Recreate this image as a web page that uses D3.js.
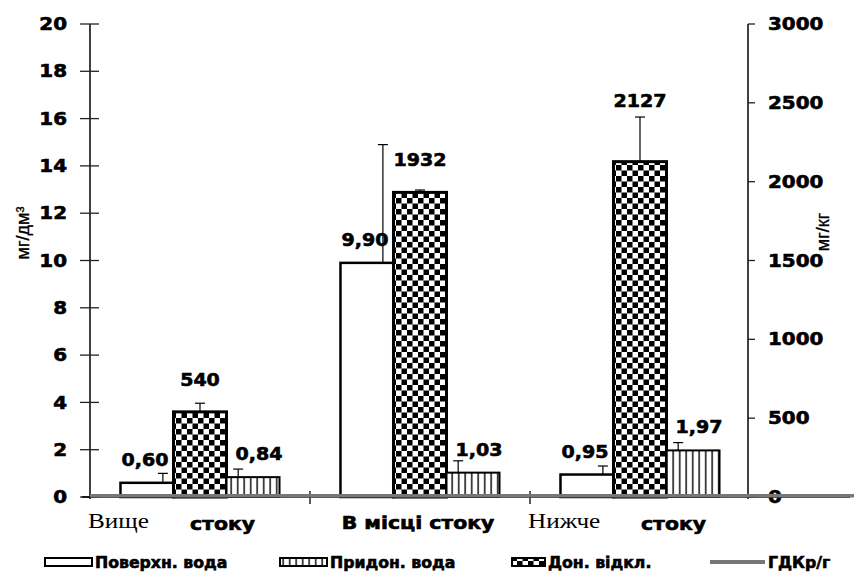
<!DOCTYPE html>
<html><head><meta charset="utf-8">
<script src="https://cdn.jsdelivr.net/npm/d3@7"></script>
<style>
html,body{margin:0;padding:0;background:#fff;}
svg{display:block;}
.tick-lbl{font-family:"DejaVu Sans",sans-serif;font-weight:bold;font-size:17px;fill:#000;stroke:#000;stroke-width:0.6px;}
.val{font-family:"DejaVu Sans",sans-serif;font-weight:bold;font-size:17px;fill:#000;stroke:#000;stroke-width:0.6px;}
.ytitle{font-family:"Liberation Sans Narrow","Liberation Sans",sans-serif;font-size:18px;fill:#000;stroke:#000;stroke-width:0.3px;}
.leg{font-family:"DejaVu Sans",sans-serif;font-weight:bold;font-size:15px;fill:#000;stroke:#000;stroke-width:0.6px;}
.xb{font-family:"DejaVu Sans",sans-serif;font-weight:bold;font-size:17px;fill:#000;stroke:#000;stroke-width:0.6px;}
.xs{font-family:"Liberation Serif","Times New Roman",serif;font-size:21px;fill:#000;}
</style>
</head><body>
<svg id="chart" width="854" height="580"></svg>
<script>
// ---- data ----
const categoriesFirst = ["Вище", "В місці", "Нижче"];
const categoriesSecond = ["стоку", "стоку", "стоку"];
const categories = ["Вище стоку", "В місці стоку", "Нижче стоку"];
const surfaceWater = [0.60, 9.90, 0.95];        // Поверхн. вода, мг/дм3
const surfaceErr = [0.40, 5.00, 0.36];
const bottomSediment = [540, 1932, 2127];       // Дон. відкл., мг/кг
const bottomErr = [55, 15, 283];
const nearBottomWater = [0.84, 1.03, 1.97];     // Придон. вода, мг/дм3
const nearBottomErr = [0.34, 0.50, 0.33];
const surfaceLabels = ["0,60", "9,90", "0,95"];
const bottomLabels = ["540", "1932", "2127"];
const nearBottomLabels = ["0,84", "1,03", "1,97"];
const gdk = [0.05, 0.05, 0.05];                 // ГДКр/г
const leftTicks = [0, 2, 4, 6, 8, 10, 12, 14, 16, 18, 20];
const rightTicks = [0, 500, 1000, 1500, 2000, 2500, 3000];
const legendNames = ["Поверхн. вода", "Придон. вода", "Дон. відкл.", "ГДКр/г"];

// ---- layout ----
const svg = d3.select("#chart");
const X0 = 90, X1 = 750, Y0 = 497, Y1 = 24;
const x = d3.scaleBand().domain(categories).range([X0, X1]).paddingInner(0).paddingOuter(0);
const series = ["surface", "bottom", "near"];
const xs = d3.scaleBand().domain(series).range([0, x.bandwidth()]).paddingInner(0).paddingOuter(0.575);
const yL = d3.scaleLinear().domain([0, 20]).range([Y0, Y1]);
const yR = d3.scaleLinear().domain([0, 3000]).range([Y0, Y1]);
const bw = xs.bandwidth();

// horizontally stretched text helper
function stext(parent, px, py, txt, anchor, cls, sx, dy) {
  const g = parent.append("g").attr("transform", `translate(${px},${py}) scale(${sx},1)`);
  const t = g.append("text").attr("class", cls).attr("text-anchor", anchor).text(txt);
  if (dy) t.attr("dy", dy);
  return t;
}

const defs = svg.append("defs");
const chk = defs.append("pattern").attr("id", "chk").attr("patternUnits", "userSpaceOnUse")
  .attr("width", 11).attr("height", 11).attr("x", 0).attr("y", 0);
chk.append("rect").attr("width", 11).attr("height", 11).attr("fill", "#fff");
chk.append("rect").attr("x", 0).attr("y", 0).attr("width", 5.5).attr("height", 5.5).attr("fill", "#000");
chk.append("rect").attr("x", 5.5).attr("y", 5.5).attr("width", 5.5).attr("height", 5.5).attr("fill", "#000");
const vs = defs.append("pattern").attr("id", "vs").attr("patternUnits", "userSpaceOnUse")
  .attr("width", 6.5).attr("height", 10);
vs.append("rect").attr("width", 6.5).attr("height", 10).attr("fill", "#fff");
vs.append("rect").attr("x", 3).attr("width", 1.4).attr("height", 10).attr("fill", "#000");

// ---- left axis ----
const gL = svg.append("g");
gL.append("line").attr("x1", X0).attr("x2", X0).attr("y1", yL(20)).attr("y2", Y0 + 2)
  .attr("stroke", "#000").attr("stroke-width", 1.5);
gL.selectAll("line.t").data(leftTicks).join("line").attr("class", "t")
  .attr("x1", 80).attr("x2", 99).attr("y1", d => yL(d)).attr("y2", d => yL(d))
  .attr("stroke", "#222").attr("stroke-width", 1.3);
leftTicks.forEach(d => stext(gL, 67, yL(d), d, "end", "tick-lbl", 1.17, "0.36em"));
svg.append("text").attr("class", "ytitle").attr("transform", "translate(29,233) rotate(-90)")
  .attr("text-anchor", "middle").text("мг/дм³");

// ---- right axis ----
const gR = svg.append("g");
gR.append("line").attr("x1", 748).attr("x2", 748).attr("y1", yR(3000)).attr("y2", Y0 + 2)
  .attr("stroke", "#000").attr("stroke-width", 1.5);
gR.selectAll("line.t").data(rightTicks).join("line").attr("class", "t")
  .attr("x1", 748).attr("x2", 755).attr("y1", d => yR(d)).attr("y2", d => yR(d))
  .attr("stroke", "#222").attr("stroke-width", 1.3);
rightTicks.forEach(d => stext(gR, 768, yR(d), d, "start", "tick-lbl", 1.17, "0.36em"));
svg.append("text").attr("class", "ytitle").attr("transform", "translate(829,232) rotate(-90)")
  .attr("text-anchor", "middle").text("мг/кг");

// ---- x axis ----
svg.append("line").attr("x1", 82).attr("x2", 850).attr("y1", Y0).attr("y2", Y0)
  .attr("stroke", "#000").attr("stroke-width", 1.5);
svg.selectAll("line.xt").data(categories.slice(1)).join("line").attr("class", "xt")
  .attr("x1", d => x(d)).attr("x2", d => x(d)).attr("y1", Y0 - 6).attr("y2", Y0 + 7)
  .attr("stroke", "#000").attr("stroke-width", 1.3);

// ---- bars ----
function drawSeries(vals, errs, labels, key, yScale, fill, sw, errOff, labelY, labelDx) {
  const g = svg.append("g");
  g.selectAll("rect").data(vals).join("rect")
    .attr("x", (d, i) => x(categories[i]) + xs(key))
    .attr("y", d => yScale(d)).attr("width", bw).attr("height", d => Y0 - yScale(d))
    .attr("fill", fill).attr("stroke", "#000").attr("stroke-width", sw);
  const ex = i => x(categories[i]) + xs(key) + bw / 2 + errOff;
  g.selectAll("line.e").data(vals).join("line").attr("class", "e")
    .attr("x1", (d, i) => ex(i)).attr("x2", (d, i) => ex(i))
    .attr("y1", d => yScale(d)).attr("y2", (d, i) => yScale(d + errs[i]))
    .attr("stroke", "#000").attr("stroke-width", 1.2);
  g.selectAll("line.c").data(vals).join("line").attr("class", "c")
    .attr("x1", (d, i) => ex(i) - 5).attr("x2", (d, i) => ex(i) + 5)
    .attr("y1", (d, i) => yScale(d + errs[i])).attr("y2", (d, i) => yScale(d + errs[i]))
    .attr("stroke", "#000").attr("stroke-width", 1.2);
  vals.forEach((d, i) => stext(g, x(categories[i]) + xs(key) + bw / 2 + labelDx, labelY(d, i),
    labels[i], "middle", "val", 1.12));
}
drawSeries(surfaceWater, surfaceErr, surfaceLabels, "surface", yL, "#fff", 2.5, bw * 0.3,
  (d) => yL(d) - 17, -2);
drawSeries(bottomSediment, bottomErr, bottomLabels, "bottom", yR, "url(#chk)", 3, 0,
  (d, i) => Math.min(yR(d + bottomErr[i]) - 10, yR(d) - 26), 0);
drawSeries(nearBottomWater, nearBottomErr, nearBottomLabels, "near", yL, "url(#vs)", 2, -bw * 0.28,
  (d) => yL(d) - 17, 6);

// ---- ГДК line ----
const cx = categories.map(c => x(c) + x.bandwidth() / 2);
const gdkPts = [[X0, gdk[0]]].concat(gdk.map((v, i) => [cx[i], v])).concat([[854, gdk[gdk.length - 1]]]);
svg.append("path").datum(gdkPts)
  .attr("d", d3.line().x(d => d[0]).y(d => yL(d[1])))
  .attr("fill", "none").attr("stroke", "#777").attr("stroke-width", 3.5);

// ---- category labels ----
const xl = svg.append("g");
categories.forEach((c, i) => {
  const bx = x(c);
  if (i === 1) {
    stext(xl, bx + x.bandwidth() / 2 - 2, 529, c, "middle", "xb", 1.2);
  } else {
    stext(xl, bx - 2, 528, categoriesFirst[i], "start", "xs", 1.2);
    stext(xl, bx + (i === 0 ? 100 : 111), 530, categoriesSecond[i], "start", "xb", 1.2);
  }
});

// ---- legend ----
const leg = svg.append("g");
const legX = [45, 280, 512, 710];
const legFill = ["#fff", "url(#vs)", "url(#chk)", null];
legendNames.forEach((n, i) => {
  if (i < 3) {
    leg.append("rect").attr("x", legX[i]).attr("y", 558).attr("width", i === 2 ? 33 : 47).attr("height", 8)
      .attr("fill", legFill[i]).attr("stroke", "#000").attr("stroke-width", 2);
  } else {
    leg.append("line").attr("x1", legX[i]).attr("x2", legX[i] + 55).attr("y1", 562).attr("y2", 562)
      .attr("stroke", "#777").attr("stroke-width", 4);
  }
  stext(leg, legX[i] + (i === 2 ? 36 : (i === 3 ? 58 : 50)), 568, n, "start", "leg", 1.05);
});
</script>
</body></html>
